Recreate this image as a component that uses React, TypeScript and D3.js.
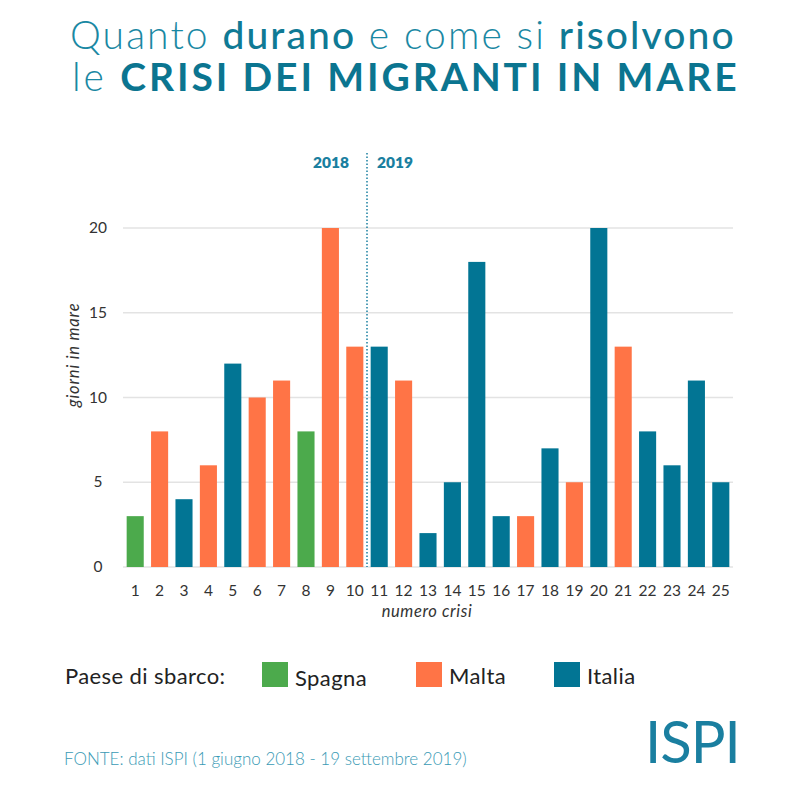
import React from "react";
import * as d3 from "d3";

const crisisNumbers = Array.from({ length: 25 }, (_, i) => String(i + 1));
const daysAtSea = [3, 8, 4, 6, 12, 10, 11, 8, 20, 13, 13, 11, 2, 5, 18, 3, 3, 7, 5, 20, 13, 8, 6, 11, 5];
const landingCountry = [
  "Spagna", "Malta", "Italia", "Malta", "Italia", "Malta", "Malta", "Spagna", "Malta", "Malta",
  "Italia", "Malta", "Italia", "Italia", "Italia", "Italia", "Malta", "Italia", "Malta", "Italia",
  "Malta", "Italia", "Italia", "Italia", "Italia",
];
const countries = ["Spagna", "Malta", "Italia"];
const countryColors = ["#4caa4c", "#ff7446", "#027594"];
const yTicks = [0, 5, 10, 15, 20];

const W = 805;
const H = 788;
const FONT = "Lato, 'Open Sans', sans-serif";

export default function App() {
  const x = d3.scaleBand<string>().domain(crisisNumbers).range([123, 733]).paddingInner(0.3).paddingOuter(0.15);
  const y = d3.scaleLinear().domain([0, 20]).range([567, 228]);
  const color = d3.scaleOrdinal<string, string>().domain(countries).range(countryColors);
  const splitX = ((x("10") ?? 0) + x.bandwidth() + (x("11") ?? 0)) / 2;
  const legendX = [262, 416, 554];

  return (
    <div style={{ position: "absolute", left: 0, top: 0, background: "#fff" }}>
      <svg width={W} height={H} style={{ display: "block", fontFamily: FONT }}>
        <rect width={W} height={H} fill="#fff" />
        {/* Title */}
        <text x={70} y={49} fontSize={39} fill="#1a88a3" fontWeight={300} letterSpacing={2.1}>
          Quanto <tspan fontWeight={500} fill="#0f7a95">durano</tspan> e come si{" "}
          <tspan fontWeight={500} fill="#0f7a95">risolvono</tspan>
        </text>
        <text x={72} y={91} fontSize={39} fill="#1a88a3" fontWeight={300} letterSpacing={2.9}>
          le <tspan fontWeight={700} fill="#0b7590">CRISI DEI MIGRANTI IN MARE</tspan>
        </text>

        {/* Gridlines */}
        {yTicks.map((t) => (
          <line key={t} x1={123} x2={733} y1={y(t)} y2={y(t)} stroke="#e3e3e3" strokeWidth={1.3} />
        ))}
        {/* Y tick labels */}
        {yTicks.map((t) => (
          <text key={"l" + t} x={98} y={y(t) + 5} textAnchor="middle" fontSize={15.5} fill="#333">
            {t}
          </text>
        ))}
        <text
          transform={`translate(79,355) rotate(-90)`}
          textAnchor="middle"
          fontSize={16.5}
          fontStyle="italic"
          fill="#333"
          letterSpacing={0.8}
        >
          giorni in mare
        </text>

        {/* Bars */}
        {crisisNumbers.map((c, i) => (
          <rect
            key={c}
            x={x(c)}
            y={y(daysAtSea[i])}
            width={x.bandwidth()}
            height={y(0) - y(daysAtSea[i])}
            fill={color(landingCountry[i])}
          />
        ))}

        {/* Year split */}
        <line x1={splitX} x2={splitX} y1={153} y2={567} stroke="#1a7fa0" strokeWidth={1.5} strokeDasharray="1.5,2" />
        <text x={331} y={168} textAnchor="middle" fontSize={15.5} fontWeight={800} fill="#1a7fa0">
          2018
        </text>
        <text x={395} y={168} textAnchor="middle" fontSize={15.5} fontWeight={800} fill="#1a7fa0">
          2019
        </text>

        {/* X tick labels */}
        {crisisNumbers.map((c) => (
          <text key={"x" + c} x={(x(c) ?? 0) + x.bandwidth() / 2} y={596} textAnchor="middle" fontSize={15.5} fill="#333">
            {c}
          </text>
        ))}
        <text x={427} y={617} textAnchor="middle" fontSize={16.5} fontStyle="italic" fill="#333" letterSpacing={0.6}>
          numero crisi
        </text>

        {/* Legend */}
        <text x={65} y={684} fontSize={22} fill="#222" letterSpacing={0.4}>
          Paese di sbarco:
        </text>
        {countries.map((c, i) => (
          <g key={c}>
            <rect x={legendX[i]} y={662} width={26} height={25} fill={countryColors[i]} />
            <text x={legendX[i] + 33} y={684 + (i === 0 ? 2 : 0)} fontSize={22} fill="#222" letterSpacing={0.4}>
              {c}
            </text>
          </g>
        ))}

        {/* Source */}
        <text x={64} y={765} fontSize={17} fill="#3a9ab5" fontWeight={300}>
          FONTE: dati ISPI (1 giugno 2018 - 19 settembre 2019)
        </text>

        {/* Logo */}
        <text x={645} y={763} fontSize={58} fontWeight={400} fill="#1a7fa0" letterSpacing={-1}>
          ISPI
        </text>
      </svg>
    </div>
  );
}
